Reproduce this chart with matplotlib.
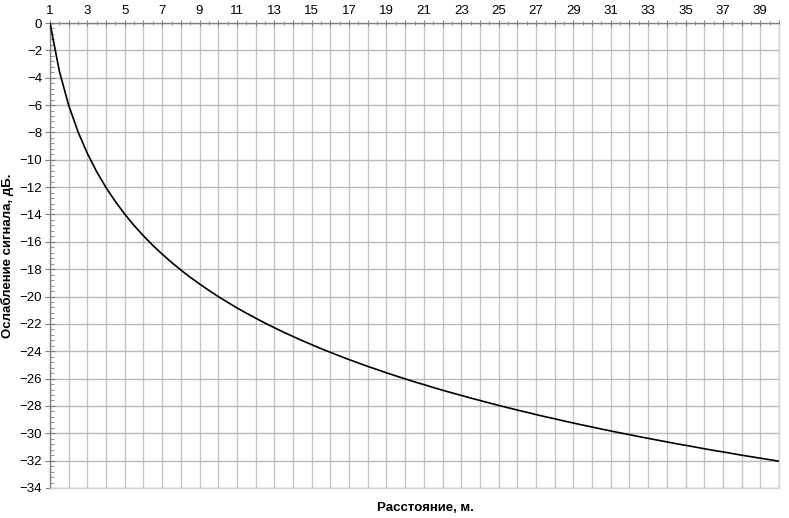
import numpy as np
import matplotlib
matplotlib.use("Agg")
import matplotlib.pyplot as plt
from matplotlib.ticker import MultipleLocator

# расстояние, м (шаг 0.5 м)
distance = np.arange(1, 40.5, 0.5)

# ослабление сигнала, дБ
attenuation = [
    0.00, -3.52, -6.02, -7.96, -9.54, -10.88, -12.04, -13.06, -13.98, -14.81,
    -15.56, -16.26, -16.90, -17.50, -18.06, -18.59, -19.08, -19.55, -20.00, -20.42,
    -20.83, -21.21, -21.58, -21.94, -22.28, -22.61, -22.92, -23.23, -23.52, -23.81,
    -24.08, -24.35, -24.61, -24.86, -25.11, -25.34, -25.58, -25.80, -26.02, -26.24,
    -26.44, -26.65, -26.85, -27.04, -27.23, -27.42, -27.60, -27.78, -27.96, -28.13,
    -28.30, -28.46, -28.63, -28.79, -28.94, -29.10, -29.25, -29.40, -29.54, -29.69,
    -29.83, -29.97, -30.10, -30.24, -30.37, -30.50, -30.63, -30.76, -30.88, -31.00,
    -31.13, -31.25, -31.36, -31.48, -31.60, -31.71, -31.82, -31.93, -32.04,
]

plt.rcParams['font.family'] = ['Liberation Sans', 'DejaVu Sans']

fig = plt.figure(figsize=(7.89, 5.18), dpi=100)
ax = fig.add_axes([50 / 789, 1 - 488 / 518, 729 / 789, 465 / 518])

ax.plot(distance, attenuation, color='black', linewidth=1.2, zorder=3)

ax.set_xlim(1, 40)
ax.set_ylim(-34, 0)

ax.xaxis.tick_top()
ax.set_xticks(range(1, 41))
ax.set_xticklabels([str(i) if i % 2 == 1 else '' for i in range(1, 41)])
ax.xaxis.set_minor_locator(MultipleLocator(0.5))
ax.yaxis.set_major_locator(MultipleLocator(2))
ax.yaxis.set_minor_locator(MultipleLocator(0.4))

ax.tick_params(axis='x', which='major', direction='inout', length=5, width=0.8,
               color='#808080', labelsize=9.5, pad=2)
ax.tick_params(axis='x', which='minor', direction='inout', length=3, width=0.6,
               color='#808080')
ax.tick_params(axis='y', which='major', direction='inout', length=7, width=0.8,
               color='#808080', labelsize=9.5, pad=2)
ax.tick_params(axis='y', which='minor', direction='in', length=3, width=0.6,
               color='#808080')

ax.grid(True, axis='x', which='major', color='#c6c6c6', linewidth=1.0, zorder=0)
ax.grid(True, axis='y', which='major', color='#b8b8b8', linewidth=1.0, zorder=0)

for side in ['top', 'left']:
    ax.spines[side].set_color('#808080')
    ax.spines[side].set_linewidth(1.0)
for side in ['bottom', 'right']:
    ax.spines[side].set_color('#d4d4d4')
    ax.spines[side].set_linewidth(1.0)

ax.set_ylabel('Ослабление сигнала, дБ.', fontsize=9.5, fontweight='bold', labelpad=4)
fig.text(425 / 789, 1 - 508 / 518, 'Расстояние, м.', fontsize=9.5,
         fontweight='bold', ha='center', va='center')

fig.savefig('out.png', dpi=100)
